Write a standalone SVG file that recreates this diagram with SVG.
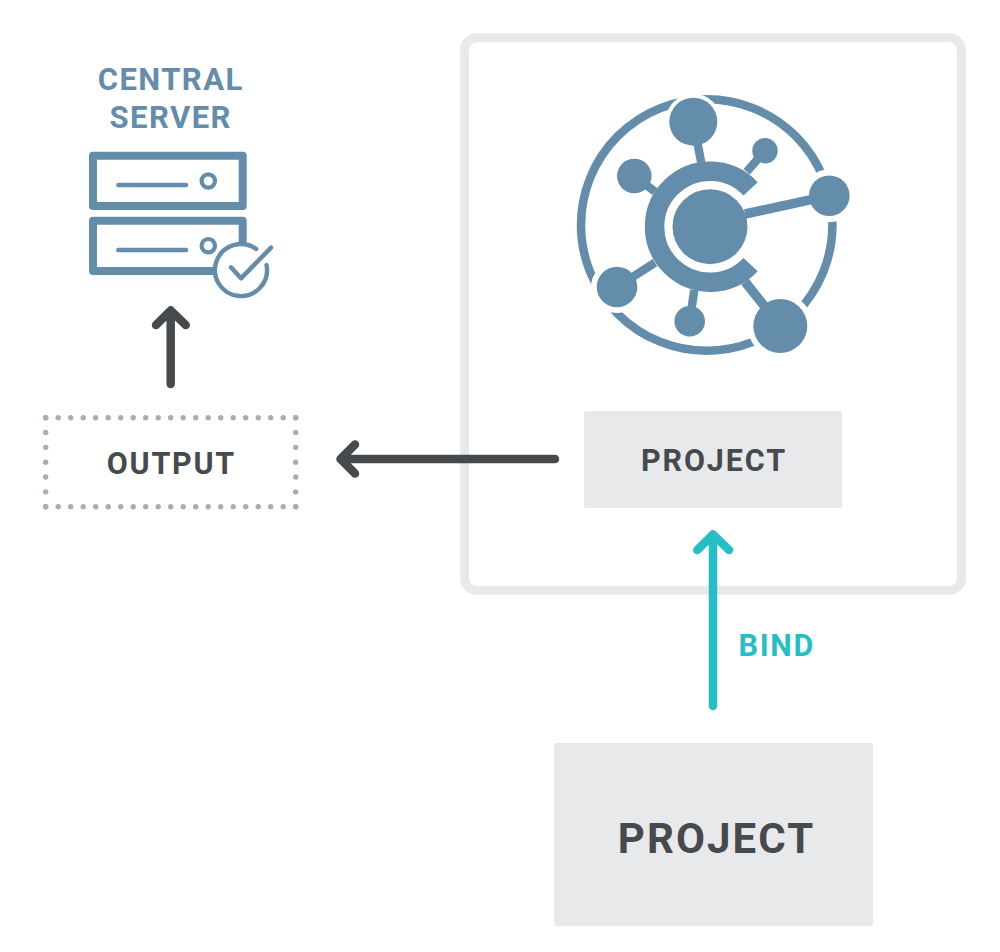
<svg xmlns="http://www.w3.org/2000/svg" width="1000" height="952" viewBox="0 0 1000 952">
<style>
text{font-family:Roboto,"Liberation Sans",sans-serif;font-weight:700;text-anchor:middle}
.dark{fill:#464a4d}
.blue{fill:#648cab}
.box{fill:#e8e9eb}
.halo{fill:#fff}
.bs{fill:none;stroke:#648cab;stroke-linecap:round;stroke-linejoin:round}
.ln{stroke:#648cab;fill:none}
.ar{fill:none;stroke-linecap:round;stroke-linejoin:round;stroke-width:8.5}
.dots{stroke:#a8adb0;stroke-width:5.4;stroke-linecap:round;fill:none}
</style>
<rect width="1000" height="952" fill="#fff"/>
<g id="frame"><rect x="464.500" y="37.800" width="497" height="552.700" rx="12.500" fill="none" stroke="#e8e9eb" stroke-width="9"/></g>
<g id="central-server">
<text class="blue" font-size="31" letter-spacing="1.430" x="170.700" y="90">CENTRAL</text>
<text class="blue" font-size="31" letter-spacing="1.430" x="170.700" y="127.500">SERVER</text>
<rect class="bs" x="93" y="155.700" width="149.700" height="50.300" stroke-width="8"/>
<rect class="bs" x="93" y="220.700" width="149.700" height="50.300" stroke-width="8"/>
<path class="bs" stroke-width="4.500" d="M118.300 185H186M118.300 250H186"/>
<circle class="bs" cx="208.300" cy="181" r="6.700" stroke-width="4.200"/>
<circle class="bs" cx="208.300" cy="245.700" r="6.700" stroke-width="4.200"/>
<circle class="halo" cx="241" cy="270" r="28"/>
<path class="bs" stroke-width="4.400" d="M266.500 265.100A26 26 0 1 1 256.200 249"/>
<path class="bs" stroke-width="4.500" d="M231 267.300L241 278.300L271 247.700"/>
</g>
<g id="network-icon">
<circle class="ln" cx="706.700" cy="225" r="125.700" stroke-width="8.500"/>
<circle class="halo" cx="693.300" cy="121.700" r="28"/>
<circle class="halo" cx="829.300" cy="195.700" r="26.500"/>
<circle class="halo" cx="617" cy="287" r="26"/>
<circle class="halo" cx="780.300" cy="326" r="32.700"/>
<g class="ln" stroke-width="8.500">
<path stroke-width="19.500" d="M750.600 188.800A55.500 55.500 0 1 0 750.600 264.600"/>
<path d="M693.300 121.700L701.700 165M765 150.700L746.700 171.700M634.300 176L655 191.700M617 287L655 262.700M689.700 321.300L694.300 290"/>
<path stroke-width="9.500" d="M829.300 195.700L745 214M780.300 326L745 281.700"/>
</g>
<g class="blue">
<circle cx="710" cy="226.700" r="37.500"/>
<circle cx="693.300" cy="121.700" r="24"/>
<circle cx="765" cy="150.700" r="12.700"/>
<circle cx="634.300" cy="176" r="17.300"/>
<circle cx="829.300" cy="195.700" r="20.300"/>
<circle cx="617" cy="287" r="20.300"/>
<circle cx="689.700" cy="321.300" r="15.300"/>
<circle cx="780.300" cy="326" r="27"/>
</g>
</g>
<g id="output">
<path class="dots" stroke-dasharray="0 12.500" d="M45.700 417.700H295.700M45.700 506.700H295.700"/>
<path class="dots" stroke-dasharray="0 14.830" d="M45.700 417.700V506.700M295.700 417.700V506.700"/>
<text class="dark" font-size="30.500" letter-spacing="1.750" x="171.400" y="474">OUTPUT</text>
</g>
<g id="project-inner">
<rect class="box" x="584" y="411" width="258" height="97" rx="2"/>
<text class="dark" font-size="30.500" letter-spacing="1.900" x="714" y="471">PROJECT</text>
</g>
<g id="project-outer">
<rect class="box" x="554" y="743" width="319" height="183" rx="3"/>
<text class="dark" font-size="42" letter-spacing="2.100" x="716.600" y="853.300">PROJECT</text>
</g>
<g id="connectors">
<path class="ar" stroke="#464a4d" d="M170.700 384V311M156 325L170.700 310.500L185.700 325"/>
<path class="ar" stroke="#464a4d" d="M555 459H341M355 444.500L340.500 459L355 473.500"/>
<path class="ar" stroke="#26bec6" d="M713 706V535M697.300 550L713 534.500L729 550"/>
</g>
<text id="bind-label" font-size="30.500" letter-spacing="1.700" x="776.800" y="656" fill="#26bec6">BIND</text>
</svg>
